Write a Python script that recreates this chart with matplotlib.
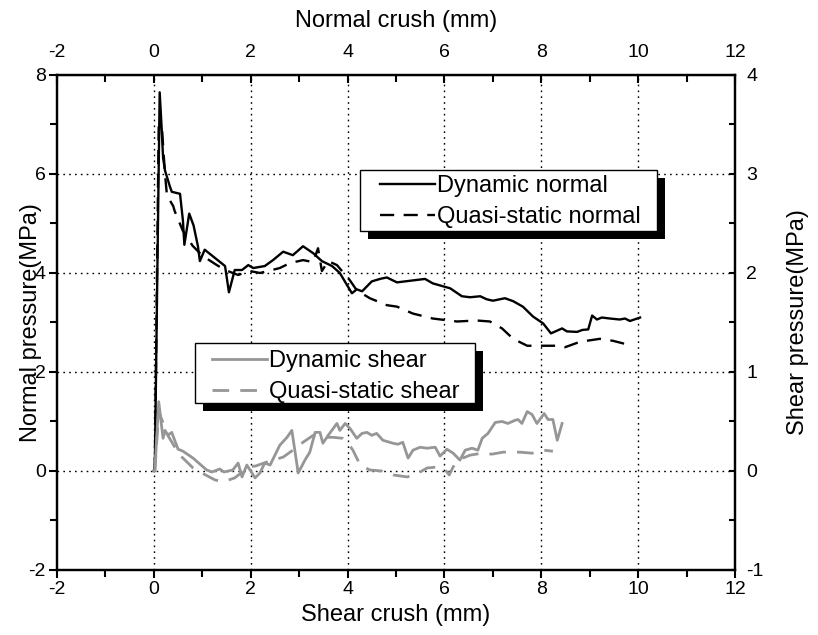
import matplotlib
matplotlib.use("Agg")
import matplotlib.pyplot as plt
from matplotlib.patches import Rectangle
from matplotlib.ticker import MultipleLocator

plt.rcParams['font.family'] = ['Liberation Sans', 'DejaVu Sans']
plt.rcParams['axes.unicode_minus'] = False

# Normal pressure (MPa) vs crush (mm)
dyn_normal_x = [0, 0.02, 0.12, 0.16, 0.19, 0.23, 0.33, 0.37, 0.54, 0.6,
                0.63, 0.73, 0.82, 0.91, 0.95, 1.05, 1.47, 1.55, 1.67, 1.82,
                1.95, 2.05, 2.29, 2.46, 2.67, 2.87, 3.08, 3.29, 3.47, 3.68,
                3.84, 4.09, 4.19, 4.3, 4.5, 4.67, 4.81, 5.02, 5.35, 5.6,
                5.76, 6.12, 6.36, 6.53, 6.74, 6.87, 7.0, 7.25, 7.42, 7.62,
                7.83, 8.04, 8.2, 8.43, 8.53, 8.74, 8.85, 8.97, 9.05, 9.15,
                9.25, 9.42, 9.62, 9.73, 9.83, 10.04]
dyn_normal_y = [0, 0.1, 7.65, 6.94, 6.33, 6.07, 5.75, 5.64, 5.6, 5.06,
                4.57, 5.2, 4.96, 4.54, 4.24, 4.47, 4.14, 3.61, 4.06, 4.06,
                4.16, 4.1, 4.14, 4.26, 4.43, 4.36, 4.54, 4.4, 4.24, 4.14,
                4.0, 3.59, 3.67, 3.63, 3.83, 3.88, 3.91, 3.81, 3.85, 3.88,
                3.79, 3.69, 3.53, 3.51, 3.53, 3.47, 3.44, 3.49, 3.43, 3.32,
                3.12, 2.98, 2.78, 2.88, 2.82, 2.81, 2.85, 2.86, 3.14, 3.06,
                3.1, 3.08, 3.06, 3.08, 3.03, 3.1]

qs_normal_x = [0, 0.02, 0.1, 0.17, 0.23, 0.27, 0.4, 0.43, 0.6, 0.8,
               1.0, 1.3, 1.47, 1.74, 1.98, 2.19, 2.4, 2.6, 2.81, 3.08,
               3.29, 3.39, 3.47, 3.6, 3.78, 4.05, 4.19, 4.46, 4.81, 5.02,
               5.35, 5.76, 6.26, 6.67, 6.94, 7.19, 7.42, 7.71, 7.98, 8.33,
               8.49, 8.8, 9.21, 9.48, 9.88]
qs_normal_y = [0, 0.1, 7.0, 6.88, 6.0, 5.57, 5.35, 5.25, 4.85, 4.55,
               4.35, 4.16, 4.06, 3.96, 4.04, 4.0, 4.05, 4.1, 4.2, 4.26,
               4.22, 4.5, 4.04, 4.24, 4.16, 3.85, 3.65, 3.49, 3.35, 3.32,
               3.18, 3.08, 3.02, 3.04, 3.02, 2.88, 2.67, 2.53, 2.53, 2.53,
               2.5, 2.61, 2.67, 2.63, 2.53]

# Shear pressure (MPa) vs crush (mm)
dyn_shear_x = [0, 0.02, 0.1, 0.19, 0.23, 0.29, 0.37, 0.43, 0.5, 0.6,
               0.81, 1.09, 1.2, 1.36, 1.45, 1.63, 1.74, 1.82, 1.92, 2.09,
               2.19, 2.29, 2.4, 2.6, 2.75, 2.85, 2.98, 3.12, 3.22, 3.33,
               3.43, 3.49, 3.6, 3.78, 3.84, 3.95, 4.05, 4.19, 4.3, 4.4,
               4.5, 4.6, 4.73, 4.94, 5.04, 5.14, 5.25, 5.35, 5.5, 5.64,
               5.81, 5.91, 6.05, 6.18, 6.32, 6.43, 6.57, 6.69, 6.78, 6.9,
               7.05, 7.19, 7.31, 7.45, 7.52, 7.6, 7.71, 7.81, 7.91, 8.06,
               8.14, 8.24, 8.33, 8.43]
dyn_shear_y = [0, 0.0, 0.70, 0.33, 0.41, 0.36, 0.39, 0.31, 0.22, 0.2,
               0.13, 0.01, -0.01, 0.02, -0.01, 0.01, 0.08, -0.06, 0.06, -0.07,
               -0.02, 0.08, 0.06, 0.26, 0.34, 0.41, -0.02, 0.11, 0.19, 0.39,
               0.39, 0.28, 0.36, 0.48, 0.41, 0.48, 0.43, 0.33, 0.38, 0.39,
               0.36, 0.38, 0.31, 0.28, 0.27, 0.29, 0.13, 0.21, 0.24, 0.23,
               0.24, 0.15, 0.22, 0.18, 0.11, 0.21, 0.23, 0.21, 0.33, 0.38,
               0.49, 0.5, 0.48, 0.51, 0.52, 0.48, 0.6, 0.57, 0.48, 0.58,
               0.52, 0.52, 0.31, 0.48]

qs_shear_x = [0, 0.02, 0.1, 0.3, 0.47, 0.58, 0.81, 0.99, 1.26, 1.43,
              1.67, 1.8, 1.92, 2.1, 2.33, 2.67, 2.87, 3.08, 3.29, 3.53,
              3.7, 3.9, 4.0, 4.11, 4.26, 4.46, 4.7, 4.94, 5.23, 5.43,
              5.64, 5.85, 6.0, 6.1, 6.2, 6.38, 6.53, 6.78, 6.98, 7.21,
              7.56, 7.81, 8.04, 8.24]
qs_shear_y = [0, 0.0, 0.6, 0.35, 0.21, 0.14, 0.03, -0.02, -0.09, -0.11,
              -0.07, -0.02, 0.04, 0.05, 0.09, 0.14, 0.21, 0.29, 0.36, 0.34,
              0.34, 0.33, 0.29, 0.21, 0.06, 0.01, 0.0, -0.04, -0.06, -0.03,
              0.03, 0.04, 0.02, -0.04, 0.06, 0.13, 0.16, 0.18, 0.17, 0.19,
              0.19, 0.18, 0.21, 0.2]

grey = '#969696'
dash = (0, (6, 4))
W, H = 818, 635


def fx(px):
    return px / W


def fy(py):
    return 1 - py / H


fig = plt.figure(figsize=(8.18, 6.35), dpi=100)
ax = fig.add_axes([0.0697, 0.1024, 0.8288, 0.7795])

ax.set_xlim(-2, 12)
ax.set_ylim(-2, 8)
ax.xaxis.set_major_locator(MultipleLocator(2))
ax.xaxis.set_minor_locator(MultipleLocator(1))
ax.yaxis.set_major_locator(MultipleLocator(2))
ax.yaxis.set_minor_locator(MultipleLocator(1))
ax.tick_params(which='both', direction='out', width=1.5, labelsize=14, pad=2)
ax.tick_params(which='major', length=6)
ax.tick_params(which='minor', length=5)
for s in ax.spines.values():
    s.set_linewidth(1.6)

# dotted grid inside the frame only
for gx in range(0, 11, 2):
    ax.axvline(gx, color='black', lw=1, ls=(0, (1.2, 3)), zorder=0)
for gy in range(0, 7, 2):
    ax.axhline(gy, color='black', lw=1, ls=(0, (1.2, 3)), zorder=0)

l1, = ax.plot(dyn_normal_x, dyn_normal_y, color='black', lw=1.7)
l2, = ax.plot(qs_normal_x, qs_normal_y, color='black', lw=1.7, ls=dash)

ax.set_xlabel('Shear crush (mm)', fontsize=17, labelpad=4)
ax.set_ylabel('Normal pressure(MPa)', fontsize=17, labelpad=-10)

top = ax.secondary_xaxis('top')
top.xaxis.set_major_locator(MultipleLocator(2))
top.xaxis.set_minor_locator(MultipleLocator(1))
top.tick_params(which='both', direction='in', width=1.5, labelsize=14, pad=10)
top.tick_params(which='major', length=6)
top.tick_params(which='minor', length=5)
top.set_xlabel('Normal crush (mm)', fontsize=17, labelpad=12)

ax2 = ax.twinx()
ax2.set_ylim(-1, 4)
ax2.yaxis.set_major_locator(MultipleLocator(1))
ax2.yaxis.set_minor_locator(MultipleLocator(0.5))
ax2.tick_params(which='both', direction='in', width=1.5, length=4, labelsize=14, pad=8)
for s in ax2.spines.values():
    s.set_linewidth(1.6)
ax2.set_ylabel('Shear pressure(MPa)', fontsize=17, labelpad=17)

s1, = ax2.plot(dyn_shear_x, dyn_shear_y, color=grey, lw=2)
s2, = ax2.plot(qs_shear_x, qs_shear_y, color=grey, lw=2, ls=dash)


def boxed_legend(handles, labels, box, first_line):
    # box = (left, top, right, bottom) in pixels; shadow 8 px down-right
    x0, y0, x1, y1 = box
    ax2.add_patch(Rectangle((fx(x0 + 8), fy(y1 + 8)), fx(x1 - x0), (y1 - y0) / H,
                            transform=fig.transFigure, facecolor='black',
                            edgecolor='none', zorder=4, clip_on=False))
    ax2.add_patch(Rectangle((fx(x0), fy(y1)), fx(x1 - x0), (y1 - y0) / H,
                            transform=fig.transFigure, facecolor='white',
                            edgecolor='black', lw=1, zorder=4.5, clip_on=False))
    leg = ax2.legend(handles, labels, loc='upper left',
                     bbox_to_anchor=(fx(first_line[0]), fy(first_line[1])),
                     bbox_transform=fig.transFigure, fontsize=17, frameon=False,
                     borderaxespad=0, borderpad=0, labelspacing=0.4,
                     handlelength=2.33, handletextpad=0.1)
    leg.set_zorder(5)
    return leg


leg1 = boxed_legend([l1, l2], ['Dynamic normal', 'Quasi-static normal'],
                    (360, 170, 657, 231), (380, 175))
ax2.add_artist(leg1)
boxed_legend([s1, s2], ['Dynamic shear', 'Quasi-static shear'],
             (195, 343, 475, 403), (212, 350))

fig.savefig('out.png', dpi=100)
